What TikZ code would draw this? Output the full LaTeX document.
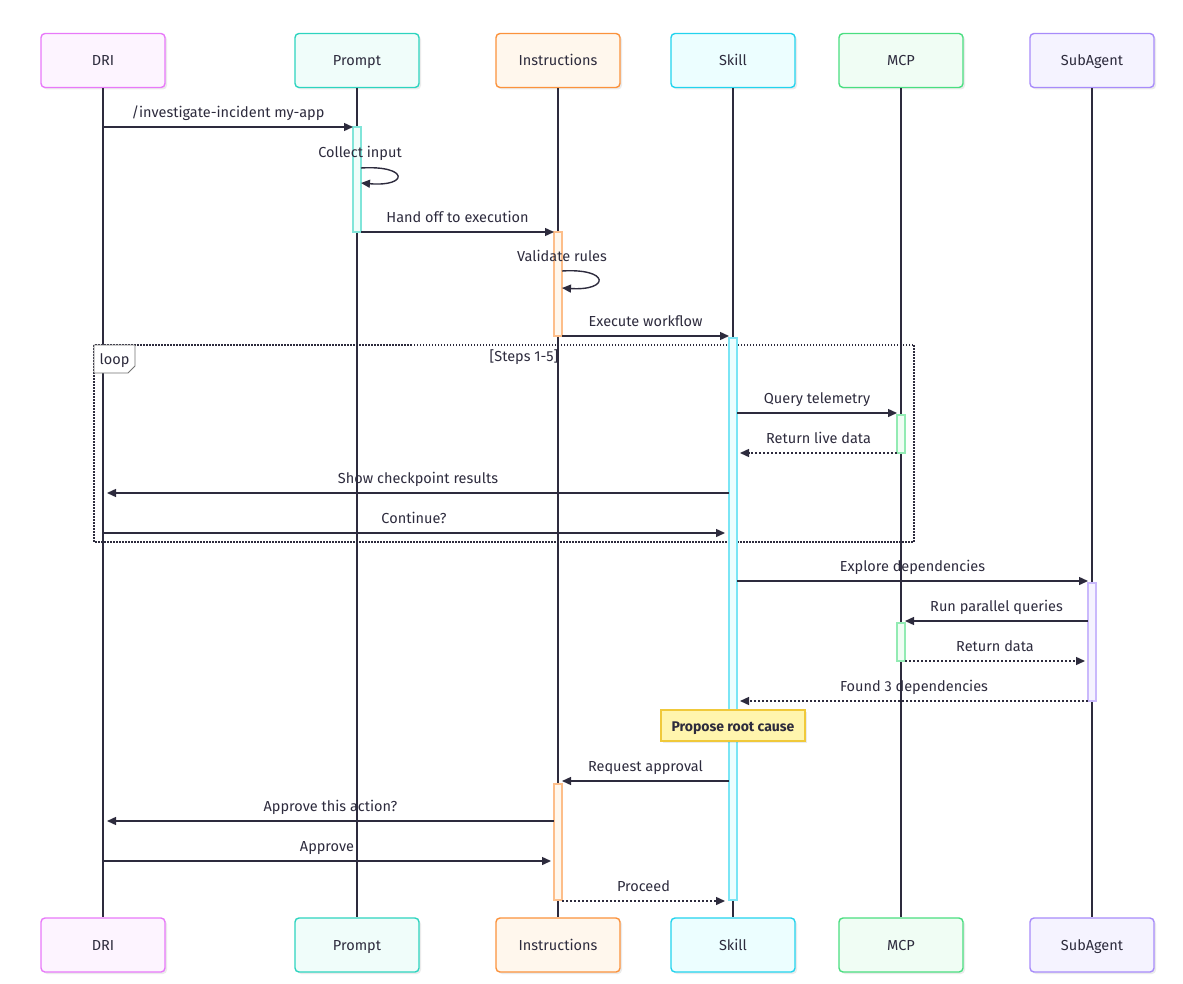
\documentclass[tikz,border=0pt]{standalone}
\usepackage{fontspec}
\setmainfont{Fira Sans}
\usetikzlibrary{arrows.meta,shadows,calc}
\definecolor{ink}{HTML}{2D2B3D}
\definecolor{dribd}{HTML}{E879F9}\definecolor{drifl}{HTML}{FDF4FF}
\definecolor{prbd}{HTML}{2DD4BF}\definecolor{prfl}{HTML}{F0FDFA}
\definecolor{inbd}{HTML}{FB923C}\definecolor{infl}{HTML}{FFF7ED}
\definecolor{skbd}{HTML}{22D3EE}\definecolor{skfl}{HTML}{ECFEFF}
\definecolor{mcbd}{HTML}{4ADE80}\definecolor{mcfl}{HTML}{F0FDF4}
\definecolor{sabd}{HTML}{A78BFA}\definecolor{safl}{HTML}{F5F3FF}
\definecolor{notebd}{HTML}{F0C93A}\definecolor{notefl}{HTML}{FFF5AD}
\tikzset{
  actor/.style={draw=#1bd, fill=#1fl, line width=1.4pt, rounded corners=4pt,
    minimum width=124pt, minimum height=54pt, text=ink, text height=14pt, text depth=3pt,
    drop shadow={shadow xshift=2pt, shadow yshift=-2pt, fill=black, opacity=0.08}},
  act/.style={draw=#1bd!60, fill=#1fl, line width=1.2pt, minimum width=8pt, inner sep=0pt},
  life/.style={draw=ink, line width=1.5pt},
  msg/.style={draw=ink, line width=1.4pt, -{Triangle[length=9pt,width=8pt]}},
  rmsg/.style={msg, dash pattern=on 2pt off 2pt},
  lbl/.style={text=ink, inner sep=0pt, anchor=center, text height=14pt, text depth=3pt},
}
\newcommand\msgline[6]{%
  \coordinate (#2) at (#3,#5);
  \coordinate (#2e) at (#4,#5);
  \draw[#1] (#2) -- (#2e);
  \node[lbl] (#2l) at ({(#3+#4)/2},#5-15) {#6};
}
\begin{document}
\begin{tikzpicture}[x=1pt,y=-1pt,font=\fontsize{14.5}{17}\selectfont]
\useasboundingbox (0,0) rectangle (1183,984);
% actors
\foreach \n/\t/\x/\c in {dri/DRI/103/dri, prompt/Prompt/357/pr, instr/Instructions/558/in, skill/Skill/733/sk, mcp/MCP/901/mc, sub/SubAgent/1092/sa}{
  \node[actor=\c] (\n) at (\x,60.5) {\t};
  \node[actor=\c] (\n b) at (\x,945) {\t};
}
% lifelines
\foreach \n in {dri,prompt,instr,skill,mcp,sub}{
  \draw[life] (\n.south) -- (\n b.north);
}
% loop frame
\draw[ink, line width=1.2pt, dash pattern=on 1.5pt off 1.5pt] (94,345) rectangle (914,542);
\draw[fill=white, draw=black!55, line width=0.8pt] (94,345) -- (135,345) -- (135,366) -- (128,373) -- (94,373) -- cycle;
\node[lbl] (looplbl) at (114.5,359) {loop};
\node[lbl] (steps) at (524,356) {[Steps 1-5]};
% activations
\node[act=pr] (a1) at (357,179.5) [minimum height=105pt] {};
\node[act=in] (a2) at (558,284) [minimum height=104pt] {};
\node[act=sk] (a3) at (733,619) [minimum height=562pt] {};
\node[act=mc] (a4) at (901,434) [minimum height=38pt] {};
\node[act=sa] (a5) at (1092,642) [minimum height=118pt] {};
\node[act=mc] (a6) at (901,642) [minimum height=38pt] {};
\node[act=in] (a7) at (558,842) [minimum height=116pt] {};
% messages
\msgline{msg}{m1}{103}{353}{127}{/investigate-incident my-app}
\node[lbl] (m2l) at (360,152) {Collect input};
\coordinate (m2a) at (361,168);
\coordinate (m2b) at (361,183);
\draw[msg] (m2a) .. controls (409,165) and (409,187) .. (m2b);
\msgline{msg}{m3}{361}{554}{232}{Hand off to execution}
\node[lbl] (m4l) at (562,256) {Validate rules};
\coordinate (m4a) at (562,271);
\coordinate (m4b) at (562,288);
\draw[msg] (m4a) .. controls (610,268) and (610,291) .. (m4b);
\msgline{msg}{m5}{562}{729}{336}{Execute workflow}
\msgline{msg}{m6}{737}{897}{413}{Query telemetry}
\msgline{rmsg}{m7}{897}{740}{453}{Return live data}
\msgline{msg}{m8}{729}{107}{493}{Show checkpoint results}
\msgline{msg}{m9}{103}{725}{533}{Continue?}
\msgline{msg}{m10}{737}{1088}{581}{Explore dependencies}
\msgline{msg}{m11}{1088}{905}{621}{Run parallel queries}
\msgline{rmsg}{m12}{905}{1085}{661}{Return data}
\msgline{rmsg}{m13}{1088}{740}{701}{Found 3 dependencies}
\node[draw=notebd, fill=notefl, line width=1.2pt, minimum width=144pt, minimum height=31pt, text=ink, text height=14pt, text depth=3pt, font=\fontsize{14}{16}\selectfont\bfseries,
  drop shadow={shadow xshift=2pt, shadow yshift=-2pt, fill=black, opacity=0.08}] (note) at (733,725.5) {Propose root cause};
\msgline{msg}{m14}{729}{562}{781}{Request approval}
\msgline{msg}{m15}{554}{107}{821}{Approve this action?}
\msgline{msg}{m16}{103}{551}{861}{Approve}
\msgline{rmsg}{m17}{562}{725}{901}{Proceed}
\end{tikzpicture}
\end{document}
